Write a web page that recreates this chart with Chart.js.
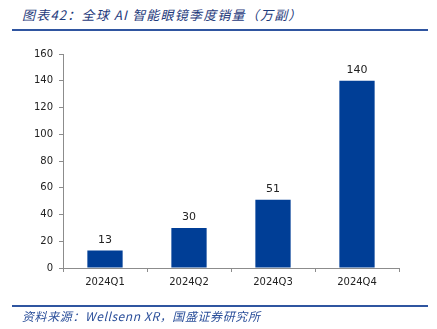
<!DOCTYPE html>
<html>
<head>
<meta charset="utf-8">
<script src="https://cdn.jsdelivr.net/npm/chart.js@4/dist/chart.umd.min.js"></script>
<style>
  html, body { margin: 0; padding: 0; background: #fff; }
  #wrap { position: relative; width: 437px; height: 329px; overflow: hidden; }
  #chart { position: absolute; left: 0; top: 0; }
  .title { position: absolute; left: 22px; top: 5px; font: italic 13px "Noto Sans CJK SC", sans-serif; letter-spacing: 1.2px; color: #1f3b7c; white-space: nowrap; }
  .rule { position: absolute; left: 12px; width: 416px; height: 2px; background: #2f55a0; }
  .source { position: absolute; left: 22px; top: 307px; font: italic 12px "Noto Sans CJK SC", sans-serif; letter-spacing: 0.6px; color: #2b4f9a; white-space: nowrap; }
</style>
</head>
<body>
<div id="wrap">
  <div class="title">图表42：全球 AI 智能眼镜季度销量（万副）</div>
  <div class="rule" style="top:29px"></div>
  <canvas id="chart" width="437" height="329"></canvas>
  <div class="rule" style="top:305px"></div>
  <div class="source">资料来源：Wellsenn XR，国盛证券研究所</div>
</div>
<script>
// quarterly sales, unit: 10k pairs
const quarters = ['2024Q1', '2024Q2', '2024Q3', '2024Q4'];
const sales = [13, 30, 51, 140];
const yMax = 160;
const yStep = 20;

const axisGray = '#8c8c8c';

// Value labels above each bar, drawn from the bar elements.
function barLabelPlugin() {
  return {
    id: 'barLabels',
    afterDatasetsDraw(chart) {
      const ctx = chart.ctx;
      const meta = chart.getDatasetMeta(0);
      ctx.save();
      ctx.font = '11px "DejaVu Sans", sans-serif';
      ctx.fillStyle = '#222';
      ctx.textAlign = 'center';
      ctx.textBaseline = 'bottom';
      meta.data.forEach((bar, i) => {
        ctx.fillText(String(sales[i]), bar.x, bar.y - 5);
      });
      ctx.restore();
    },
  };
}

new Chart(document.getElementById('chart'), {
  type: 'bar',
  data: {
    labels: quarters,
    datasets: [{
      data: sales, backgroundColor: '#003e96', borderWidth: 0,
      categoryPercentage: 1, barPercentage: 0.42,
    }],
  },
  options: {
    responsive: false, animation: false,
    layout: { padding: { left: 0, right: 38, top: 54, bottom: 31 } },
    scales: {
      x: {
        grid: { offset: true, drawOnChartArea: false, drawTicks: true, tickLength: 4, color: axisGray },
        border: { color: axisGray, width: 1 },
        ticks: { color: '#222', font: { family: 'DejaVu Sans', size: 10 }, padding: 4, maxRotation: 0 },
        afterFit(scale) { scale.height = 30; },
      },
      y: {
        min: 0, max: yMax,
        grid: { drawOnChartArea: false, drawTicks: true, tickLength: 4, color: axisGray },
        border: { color: axisGray, width: 1 },
        ticks: { stepSize: yStep, color: '#222', font: { family: 'DejaVu Sans', size: 10 }, padding: 6 },
        afterFit(scale) { scale.width = 63; },
      },
    },
    plugins: { legend: { display: false }, tooltip: { enabled: false } },
  },
  plugins: [barLabelPlugin()],
});
</script>
</body>
</html>
